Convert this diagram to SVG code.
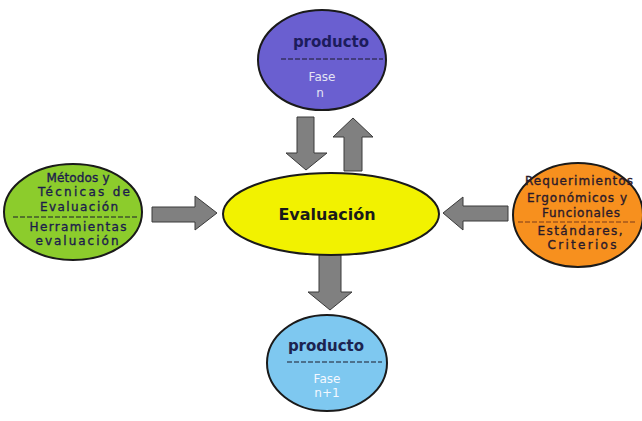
<svg xmlns="http://www.w3.org/2000/svg" width="642" height="421" viewBox="0 0 642 421">
<style>
.node ellipse{stroke:#1a1a1a;stroke-width:2}
.arrow{fill:#808080;stroke:#3a3a3a;stroke-width:1}
.t{font-family:"DejaVu Sans","Liberation Sans",sans-serif;text-anchor:middle}
.b{font-weight:bold}
.s{font-size:12px;stroke-width:0.35}
.g{fill:#1c1c4c;stroke:#1c1c4c}
.o{fill:#2a1a2a;stroke:#2a1a2a}
.dash{stroke:#1a1a2a;stroke-width:1.2;stroke-dasharray:5 2;fill:none}
</style>
<rect width="642" height="421" fill="#ffffff"/>
<g id="connectors">
<polygon class="arrow" points="297,117 314,117 314,153 327,153 306,170 286,153 297,153"/>
<polygon class="arrow" points="344,171 362,171 362,137 373,137 353,118 333,137 344,137"/>
<polygon class="arrow" points="152,207 195,207 195,196 217,213 195,230 195,222 152,222"/>
<polygon class="arrow" points="508,206 463,206 463,197 443,213 463,230 463,221 508,221"/>
<polygon class="arrow" points="319,253 341,253 341,292 352,292 330,310 308,292 319,292"/>
</g>
<g id="producto-n" class="node">
<ellipse cx="322" cy="60" rx="64" ry="50" fill="#6a5fd0"/>
<text class="t b" x="331" y="47" font-size="15" fill="#1c1c5c">producto</text>
<line class="dash" x1="281" y1="59" x2="383" y2="59"/>
<text class="t" x="322" y="81" font-size="12" fill="#e4e4f4">Fase</text>
<text class="t" x="320" y="97" font-size="12" fill="#e4e4f4">n</text>
</g>
<g id="evaluacion" class="node">
<ellipse cx="331" cy="214" rx="108" ry="41" fill="#f2f200"/>
<text class="t b" x="327" y="220" font-size="16" fill="#1a1a1a">Evaluación</text>
</g>
<g id="metodos" class="node">
<ellipse cx="73" cy="212" rx="69" ry="48" fill="#8ccc2c"/>
<text class="t s g" x="78" y="182" textLength="63" lengthAdjust="spacing">Métodos y</text>
<text class="t s g" x="84" y="196" textLength="92" lengthAdjust="spacing">Técnicas de</text>
<text class="t s g" x="79" y="211" textLength="78" lengthAdjust="spacing">Evaluación</text>
<line class="dash" x1="13" y1="217" x2="137" y2="217"/>
<text class="t s g" x="78" y="231" textLength="97" lengthAdjust="spacing">Herramientas</text>
<text class="t s g" x="77" y="245" textLength="83" lengthAdjust="spacing">evaluación</text>
</g>
<g id="requerimientos" class="node">
<ellipse cx="578" cy="215" rx="65" ry="52" fill="#f7901e"/>
<text class="t s o" x="579" y="185" textLength="108" lengthAdjust="spacing">Requerimientos</text>
<text class="t s o" x="577" y="202" textLength="100" lengthAdjust="spacing">Ergonómicos y</text>
<text class="t s o" x="581" y="217" textLength="78" lengthAdjust="spacing">Funcionales</text>
<line class="dash" x1="518" y1="222" x2="635" y2="222" style="stroke:#7a3a1a"/>
<text class="t s o" x="580" y="235" textLength="85" lengthAdjust="spacing">Estándares,</text>
<text class="t s o" x="582" y="249" textLength="69" lengthAdjust="spacing">Criterios</text>
</g>
<g id="producto-n1" class="node">
<ellipse cx="327" cy="363" rx="60" ry="48" fill="#7ec8f0"/>
<text class="t b" x="326" y="351" font-size="15" fill="#1c2450">producto</text>
<line class="dash" x1="287" y1="362" x2="382" y2="362"/>
<text class="t" x="327" y="383" font-size="12" fill="#f4f8ff">Fase</text>
<text class="t" x="327" y="397" font-size="12" fill="#f4f8ff">n+1</text>
</g>
</svg>
